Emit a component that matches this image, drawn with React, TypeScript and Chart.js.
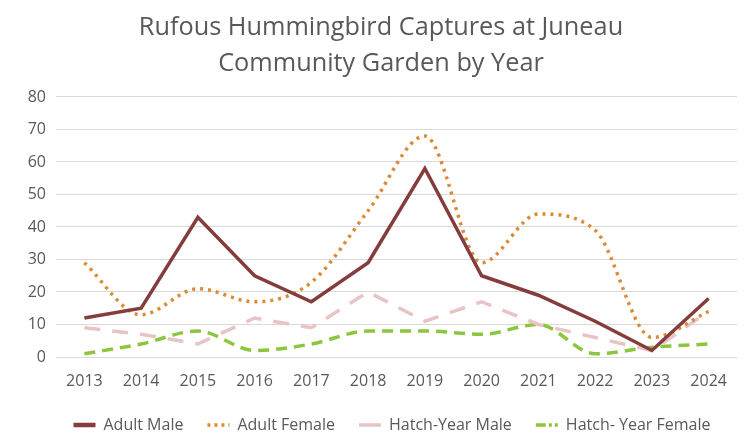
import React, { useEffect, useRef } from "react";
import { Chart, registerables } from "chart.js";

Chart.register(...registerables);

const years = ["2013", "2014", "2015", "2016", "2017", "2018", "2019", "2020", "2021", "2022", "2023", "2024"];
const adultMale = [12, 15, 43, 25, 17, 29, 58, 25, 19, 11, 2, 18];
const adultFemale = [29, 13, 21, 17, 23, 45, 68, 29, 44, 39, 6, 14];
const hatchYearMale = [9, 7, 4, 12, 9, 20, 11, 17, 10, 6, 2, 14];
const hatchYearFemale = [1, 4, 8, 2, 4, 8, 8, 7, 10, 1, 3, 4];
const titleLines = ["Rufous Hummingbird Captures at Juneau", "Community Garden by Year"];

const FONT = "'Open Sans', sans-serif";
const legendDash: number[][] = [[], [3, 4], [], [10, 3, 3, 3]];

const shiftLegend = {
  id: "shiftLegend",
  afterLayout(chart: any) {
    if (chart.legend) {
      chart.legend.left += 11;
      chart.legend.right += 11;
    }
  },
};

export default function App() {
  const ref = useRef<HTMLCanvasElement>(null);
  useEffect(() => {
    if (!ref.current) return;
    const chart = new Chart(ref.current, {
      type: "line",
      data: {
        labels: years,
        datasets: [
          {
            label: "Adult Male",
            data: adultMale,
            borderColor: "#843c3c",
            backgroundColor: "#843c3c",
            borderWidth: 3.5,
            pointRadius: 0,
            pointStyle: "line",
            tension: 0,
          },
          {
            label: "Adult Female",
            data: adultFemale,
            borderColor: "#dc8a34",
            backgroundColor: "#dc8a34",
            borderWidth: 3.5,
            borderDash: [3, 5],
            pointRadius: 0,
            pointStyle: "line",
            cubicInterpolationMode: "monotone",
            tension: 0.3,
          },
          {
            label: "Hatch-Year Male",
            data: hatchYearMale,
            borderColor: "#e8c4c4",
            backgroundColor: "#e8c4c4",
            borderWidth: 3.5,
            borderDash: [16, 12],
            pointRadius: 0,
            pointStyle: "line",
            tension: 0,
          },
          {
            label: "Hatch- Year Female",
            data: hatchYearFemale,
            borderColor: "#8cc63f",
            backgroundColor: "#8cc63f",
            borderWidth: 3.5,
            borderDash: [11, 7],
            pointRadius: 0,
            pointStyle: "line",
            cubicInterpolationMode: "monotone",
            tension: 0.3,
          },
        ],
      },
      options: {
        responsive: false,
        animation: false,
        layout: { padding: { left: 25, right: 9, top: 0, bottom: 3 } },
        plugins: {
          title: {
            display: true,
            text: titleLines,
            color: "#595959",
            font: { family: FONT, size: 25.3, weight: "normal", lineHeight: 1.45 },
            padding: { top: 9, bottom: 14.6 },
          },
          legend: {
            position: "bottom",
            labels: {
              usePointStyle: true,
              pointStyleWidth: 22,
              color: "#595959",
              font: { family: FONT, size: 16 },
              padding: 24,
              generateLabels: (c: any) => {
                const items = Chart.defaults.plugins.legend.labels.generateLabels(c);
                return items.map((it: any, i: number) => ({
                  ...it,
                  lineDash: legendDash[i],
                  lineWidth: i === 0 ? 4.5 : 3.5,
                  pointStyle: "line",
                }));
              },
            },
          },
          tooltip: { enabled: false },
        },
        scales: {
          x: {
            offset: true,
            grid: { display: false, drawTicks: false },
            border: { display: false },
            ticks: { color: "#595959", font: { family: FONT, size: 16 }, padding: 15, maxRotation: 0 },
            afterFit: (s: any) => {
              s.height = 36;
            },
          },
          y: {
            min: 0,
            max: 80,
            ticks: { stepSize: 10, color: "#595959", font: { family: FONT, size: 16 }, padding: 10 },
            grid: { color: "#d9d9d9", lineWidth: 1, drawTicks: false },
            border: { display: false },
            afterFit: (s: any) => {
              s.width = 31;
            },
          },
        },
      },
      plugins: [shiftLegend],
    });
    return () => chart.destroy();
  }, []);
  return (
    <div style={{ position: "absolute", left: 0, top: 0, width: 746, height: 446, background: "#fff" }}>
      <canvas ref={ref} width={746} height={446} />
    </div>
  );
}
